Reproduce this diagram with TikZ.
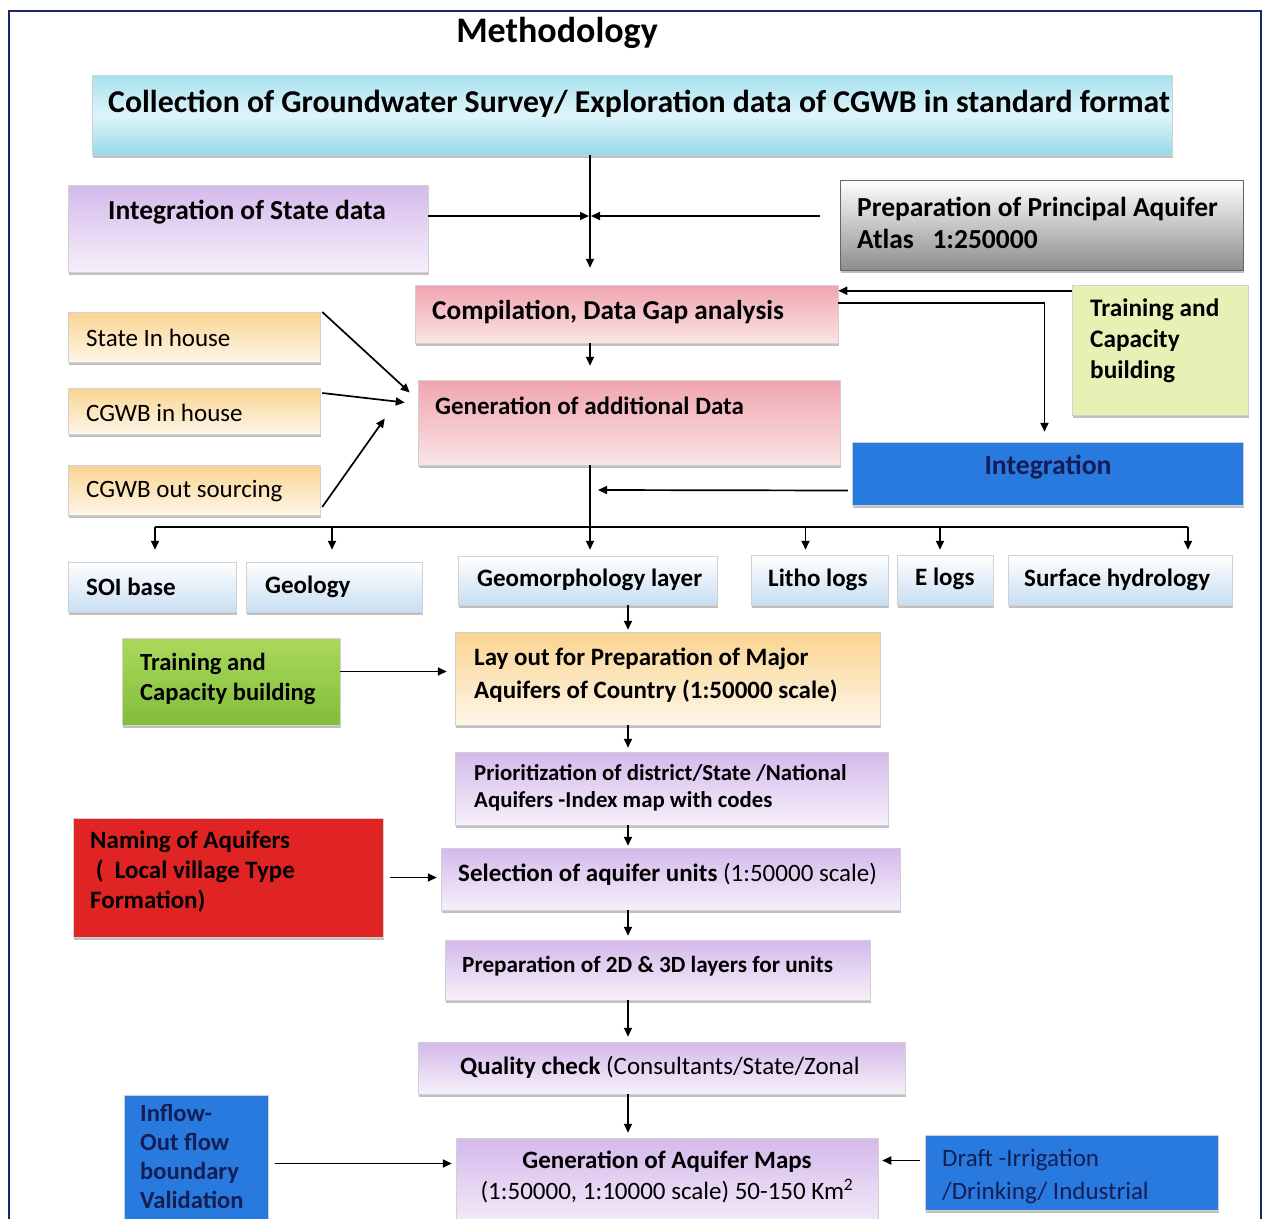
\documentclass[tikz,border=0pt]{standalone}
\usepackage{fontspec}
\setmainfont{Carlito}
\usetikzlibrary{arrows.meta,shadows,calc}
\definecolor{frame}{RGB}{25,40,110}
\definecolor{cyanT}{RGB}{165,225,238}
\definecolor{cyanB}{RGB}{150,218,232}
\definecolor{violT}{RGB}{212,185,235}
\definecolor{violB}{RGB}{246,240,250}
\definecolor{pinkT}{RGB}{240,165,175}
\definecolor{pinkB}{RGB}{250,228,230}
\definecolor{orT}{RGB}{250,212,145}
\definecolor{orB}{RGB}{254,246,232}
\definecolor{grayB}{RGB}{140,140,140}
\definecolor{lime}{RGB}{232,240,182}
\definecolor{blueI}{RGB}{40,122,222}
\definecolor{navyT}{RGB}{20,30,85}
\definecolor{lbB}{RGB}{200,222,242}
\definecolor{grT}{RGB}{172,216,92}
\definecolor{grB}{RGB}{128,190,58}
\definecolor{redN}{RGB}{224,36,36}
\newcommand\mybox[6]{\node[box,#6,minimum width=#4pt-#2pt,minimum height=#5pt-#3pt] (#1) at ({(#2+#4)/2},{(#3+#5)/2}) {};}
\newcommand\fs[2]{\fontsize{#1}{#2}\selectfont}
\tikzset{
  box/.style={rectangle,inner sep=0pt,draw=black!18,line width=0.5pt,
    drop shadow={shadow xshift=1pt,shadow yshift=-2.5pt,opacity=0.35,fill=black!70}},
  cyanbox/.style={top color=cyanT,bottom color=cyanB,middle color=cyanT!35},
  violbox/.style={top color=violT,bottom color=violB},
  pinkbox/.style={top color=pinkT,bottom color=pinkB},
  orbox/.style={top color=orT,bottom color=orB},
  graybox/.style={top color=white,bottom color=grayB,draw=black!60},
  limebox/.style={fill=lime},
  bluebox/.style={fill=blueI},
  lbbox/.style={top color=white,bottom color=lbB},
  grbox/.style={top color=grT,bottom color=grB},
  redbox/.style={fill=redN},
  txt/.style={inner sep=0pt,anchor=west,align=left,font=\fs{25}{31}\bfseries},
  rtxt/.style={inner sep=0pt,anchor=west,align=left,font=\fs{25}{31}},
  arr/.style={-{Triangle[length=9pt,width=8pt]},line width=1.7pt},
  ln/.style={line width=1.7pt}
}
\begin{document}
\begin{tikzpicture}[x=1pt,y=-1pt]
\useasboundingbox (0,0) rectangle (1266,1218);
\clip (0,0) rectangle (1266,1218);
\fill[white] (0,0) rectangle (1266,1218);
\draw[frame,line width=2pt] (9,11) rectangle (1261,1240);
\node[font=\fs{36}{40}\bfseries] (title) at (557,33) {Methodology};
% boxes
\mybox{coll}{92}{75}{1172}{155}{cyanbox}
\mybox{isd}{68}{185}{428}{272}{violbox}
\mybox{ppa}{840}{180}{1243}{270}{graybox}
\mybox{comp}{415}{285}{838}{343}{pinkbox}
\mybox{tcbA}{1072}{285}{1248}{415}{limebox}
\mybox{sih}{68}{312}{320}{362}{orbox}
\mybox{cih}{68}{388}{320}{434}{orbox}
\mybox{cos}{68}{465}{320}{515}{orbox}
\mybox{gen}{418}{380}{840}{465}{pinkbox}
\mybox{integ}{852}{442}{1243}{505}{bluebox}
\mybox{soi}{68}{562}{236}{612}{lbbox}
\mybox{geol}{246}{562}{422}{612}{lbbox}
\mybox{geom}{458}{556}{717}{605}{lbbox}
\mybox{litho}{751}{555}{888}{605}{lbbox}
\mybox{elogs}{897}{555}{993}{605}{lbbox}
\mybox{surf}{1008}{555}{1232}{605}{lbbox}
\mybox{tcbB}{122}{638}{340}{725}{grbox}
\mybox{lay}{455}{632}{880}{725}{orbox}
\mybox{prio}{455}{752}{888}{825}{violbox}
\mybox{nam}{73}{818}{383}{937}{redbox}
\mybox{sel}{441}{848}{900}{910}{violbox}
\mybox{ptd}{445}{940}{870}{1000}{violbox}
\mybox{qc}{418}{1042}{905}{1094}{violbox}
\mybox{gam}{456}{1138}{878}{1232}{violbox}
\mybox{inf}{124}{1095}{268}{1232}{bluebox}
\mybox{draft}{925}{1135}{1218}{1210}{bluebox}
% texts
\node[txt,font=\fs{31.8}{36}\bfseries] (tcoll) at (108,104) {Collection of Groundwater Survey/ Exploration data of CGWB in standard format};
\node[txt,font=\fs{27.5}{32}\bfseries] (tisd) at (108,212) {Integration of State data};
\node[txt,font=\fs{27.5}{32}\bfseries] (tppa) at (857,223) {Preparation of Principal Aquifer\\Atlas\ \ \ 1:250000};
\node[txt,font=\fs{27.3}{32}\bfseries] (tcomp) at (432,312) {Compilation, Data Gap analysis};
\node[txt,font=\fs{25.3}{31}\bfseries] (ttcbA) at (1090,341) {Training and\\Capacity\\building};
\node[rtxt] (tsih) at (86,338) {State In house};
\node[rtxt] (tcih) at (86,413) {CGWB in house};
\node[rtxt] (tcos) at (86,491) {CGWB out sourcing};
\node[txt] (tgen) at (435,406) {Generation of additional Data};
\node[txt,anchor=center,text=navyT,font=\fs{27.7}{32}\bfseries] (tinteg) at (1048,467) {Integration};
\node[txt] (tsoi) at (86,587) {SOI base};
\node[txt] (tgeol) at (265,587) {Geology};
\node[txt] (tgeom) at (477,580) {Geomorphology layer};
\node[txt] (tlitho) at (768,580) {Litho logs};
\node[txt] (telogs) at (915,579) {E logs};
\node[txt] (tsurf) at (1024,580) {Surface hydrology};
\node[txt,font=\fs{24.6}{30}\bfseries] (ttcbB) at (140,679) {Training and\\Capacity building};
\node[txt,font=\fs{25}{33}\bfseries] (tlay) at (474,675) {Lay out for Preparation of Major\\Aquifers of Country (1:50000 scale)};
\node[txt,font=\fs{22.8}{27}\bfseries] (tprio) at (474,788) {Prioritization of district/State /National\\Aquifers -Index map with codes};
\node[txt,font=\fs{25}{30}\bfseries] (tnam) at (90,872) {Naming of Aquifers\\\ (\ \ Local village Type\\Formation)};
\node[rtxt] (tsel) at (458,874) {\textbf{Selection of aquifer units} (1:50000 scale)};
\node[txt,font=\fs{23.2}{27}\bfseries] (tptd) at (462,966) {Preparation of 2D \& 3D layers for units};
\node[rtxt] (tqc) at (460,1067) {\textbf{Quality check} (Consultants/State/Zonal};
\node[rtxt,anchor=center,align=center] (tgam) at (667,1177) {\textbf{Generation of Aquifer Maps}\\(1:50000, 1:10000 scale) 50-150 Km\textsuperscript{2}};
\node[txt,font=\fs{24.6}{29}\bfseries,text=navyT] (tinf) at (140,1156) {Inflow-\\Out flow\\boundary\\Validation};
\node[rtxt,font=\fs{25}{33},text=navyT] (tdraft) at (942,1176) {Draft -Irrigation\\/Drinking/ Industrial};
% connectors
\coordinate (j1) at (590,216);
\coordinate (vl) at (590,490);
\coordinate (cx) at (628,0);
\coordinate (busL) at (155,527);
\coordinate (busR) at (1188,527);
\draw[arr] (coll.south -| j1) -- ([yshift=17pt]comp.north -| j1);
\draw[arr] (isd.east |- j1) -- ([xshift=-1pt]j1);
\draw[arr] ([xshift=-20pt]ppa.west |- j1) -- ([xshift=1pt]j1);
\draw[arr] (comp.south -| j1) -- ([yshift=14pt]gen.north -| j1);
\draw[arr] ([xshift=2pt,yshift=25pt]sih.east) -- ([xshift=-8pt,yshift=30pt]gen.west);
\draw[arr] ([xshift=2pt,yshift=18pt]cih.east) -- ([xshift=-13pt,yshift=20pt]gen.west);
\draw[arr] ([xshift=2pt,yshift=-17pt]cos.east) -- ([xshift=-33pt,yshift=4pt]gen.west);
\draw[arr] ([yshift=-6pt]tcbA.north west) -- ([yshift=-6pt]comp.north east);
\draw[arr] ([yshift=-18pt]comp.north east) -| ([xshift=-3pt,yshift=10pt]integ.north);
\draw[arr] ([xshift=-4pt,yshift=-17pt]integ.west) -- ([xshift=8pt]vl);
\draw[arr] (gen.south -| j1) -- ([yshift=6pt]geom.north -| j1);
\draw[ln] (busL) -- (busR);
\draw[arr] (busL) -- ([yshift=12pt]soi.north -| busL);
\draw[arr] ([xshift=-2pt]geol.north |- busL) -- ([xshift=-2pt,yshift=12pt]geol.north);
\draw[arr] ([xshift=-14pt]litho.north |- busL) -- ([xshift=-14pt,yshift=5pt]litho.north);
\draw[arr] ([xshift=-5pt]elogs.north |- busL) -- ([xshift=-5pt,yshift=5pt]elogs.north);
\draw[arr] (busR) -- ([yshift=5pt]surf.north -| busR);
\draw[arr] (geom.south -| cx) -- ([yshift=2pt]lay.north -| cx);
\draw[arr] ([yshift=10pt]tcbB.east) -- ([xshift=-8pt,yshift=10pt]tcbB.east -| lay.west);
\draw[arr] (lay.south -| cx) -- ([yshift=4pt]prio.north -| cx);
\draw[arr] (prio.south -| cx) -- ([yshift=2pt]sel.north -| cx);
\draw[arr] ([xshift=7pt]nam.east) -- ([xshift=-4pt]nam.east -| sel.west);
\draw[arr] (sel.south -| cx) -- ([yshift=4pt]ptd.north -| cx);
\draw[arr] (ptd.south -| cx) -- ([yshift=5pt]qc.north -| cx);
\draw[arr] (qc.south -| cx) -- ([yshift=5pt]gam.north -| cx);
\draw[arr] ([xshift=7pt]inf.east) -- ([xshift=-4pt]inf.east -| gam.west);
\draw[arr] ([xshift=-5pt,yshift=12pt]draft.west) -- ([xshift=4pt,yshift=12pt]draft.west -| gam.east);
\end{tikzpicture}
\end{document}
